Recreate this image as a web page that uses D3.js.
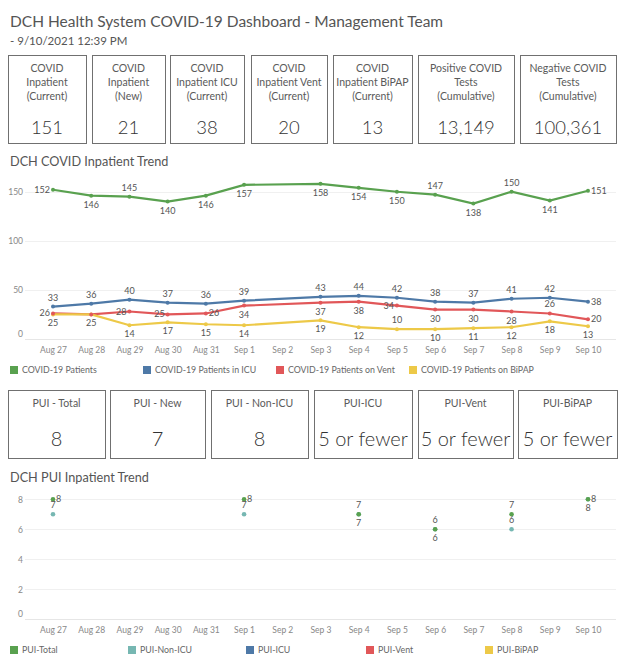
<!DOCTYPE html>
<meta charset=utf-8>
<style>
body { margin: 0; background: white }
svg { display: block; font-family: Lato, "Open Sans", sans-serif }
</style>
<script src="https://cdn.jsdelivr.net/npm/d3@7/dist/d3.min.js"></script>
<body>
<svg id=dash width=624 height=662></svg>
<script>
// ---- data ----
const days = ["Aug 27","Aug 28","Aug 29","Aug 30","Aug 31","Sep 1","Sep 2","Sep 3","Sep 4","Sep 5","Sep 6","Sep 7","Sep 8","Sep 9","Sep 10"];

const kpiLabels = [
	["COVID","Inpatient","(Current)"],
	["COVID","Inpatient","(New)"],
	["COVID","Inpatient ICU","(Current)"],
	["COVID","Inpatient Vent","(Current)"],
	["COVID","Inpatient BiPAP","(Current)"],
	["Positive COVID","Tests","(Cumulative)"],
	["Negative COVID","Tests","(Cumulative)"]];
const kpiValues = ["151","21","38","20","13","13,149","100,361"];

const puiLabels = ["PUI - Total","PUI - New","PUI - Non-ICU","PUI-ICU","PUI-Vent","PUI-BiPAP"];
const puiValues = ["8","7","8","5 or fewer","5 or fewer","5 or fewer"];

const covidNames = ["COVID-19 Patients","COVID-19 Patients in ICU","COVID-19 Patients on Vent","COVID-19 Patients on BiPAP"];
const patients = [152,146,145,140,146,157,null,158,154,150,147,138,150,141,151];
const icu      = [33,36,40,37,36,39,null,43,44,42,38,37,41,42,38];
const vent     = [26,25,28,25,26,34,null,37,38,34,30,30,28,26,20];
const bipap    = [25,25,14,17,15,14,null,19,12,10,10,11,12,18,13];
const covidTicks = [0,50,100,150];

const puiNames = ["PUI-Total","PUI-Non-ICU","PUI-ICU","PUI-Vent","PUI-BiPAP"];
const puiTotal  = [8,null,null,null,null,8,null,null,7,null,6,null,7,null,8];
const puiNonIcu = [7,null,null,null,null,7,null,null,7,null,6,null,6,null,8];
const puiTicks = [0,2,4,6,8];

// label placement per point: l left, r right, a above, b below, - none
const covidLabelPos = [
	"l b a b b b - b b b a b a b r",
	"a a a a a a - a a a a a a a r",
	"l - l l r b - b b l b b b a r",
	"b b b b b b - b b a b b b b b"];
const puiLabelPos = [
	"r - - - - r - - a - a - a - r",
	"a - - - - a - - b - b - a - b"];

// ---- layout / style ----
const colors = ["#59a14f","#4e79a7","#e15759","#edc948"];
const puiColors = ["#59a14f","#76b7b2","#4e79a7","#e15759","#edc948"];
const kpiBoxes = [[8,86],[92,165],[170,244],[251,327],[333,412],[418,514],[520,616]];
const puiBoxes = [[8,105],[110,205],[211,308],[314,412],[418,513],[518,617]];
const textCol = "#555", axisCol = "#888";

const svg = d3.select("#dash");

svg.append("text").attr("x", 10).attr("y", 27)
	.attr("font-size", 15.5).attr("fill", textCol)
	.text("DCH Health System COVID-19 Dashboard - Management Team");
svg.append("text").attr("x", 10).attr("y", 45)
	.attr("font-size", 11.5).attr("fill", textCol)
	.text("- 9/10/2021 12:39 PM");

function boxes(spec, labels, values, y0, y1, labelY, valueY, valueSize) {
	const g = svg.append("g");
	spec.forEach(([x0, x1], i) => {
		const cx = (x0 + x1) / 2;
		g.append("rect").attr("x", x0 + 0.5).attr("y", y0 + 0.5)
			.attr("width", x1 - x0).attr("height", y1 - y0)
			.attr("fill", "white").attr("stroke", "#707070");
		const lines = [].concat(labels[i]);
		lines.forEach((l, j) => g.append("text")
			.attr("x", cx).attr("y", labelY + j * 14)
			.attr("text-anchor", "middle").attr("font-size", 10.5).attr("fill", "#5a5a5a")
			.text(l));
		g.append("text").attr("x", cx).attr("y", valueY)
			.attr("text-anchor", "middle").attr("font-size", valueSize).attr("font-weight", 300)
			.attr("fill", "#333")
			.text(values[i]);
	});
}
boxes(kpiBoxes, kpiLabels, kpiValues, 55, 143, 72, 134, 18.5);
boxes(puiBoxes, puiLabels, puiValues, 390, 458, 407, 445.5, 20);

const x = d3.scalePoint().domain(days).range([53, 588]);

function trend(opts) {
	const {title, titleY, top, bottom, max, ticks, series, names, cols, lineCols, pos, lines, legendX, legendY} = opts;
	const y = d3.scaleLinear().domain([0, max]).range([bottom, top]);
	svg.append("text").attr("x", 10).attr("y", titleY)
		.attr("font-size", 12.7).attr("fill", textCol).text(title);

	// grid
	svg.append("g").selectAll("line").data(ticks.slice(1)).join("line")
		.attr("x1", 25).attr("x2", 616)
		.attr("y1", d => Math.round(y(d)) + 0.5).attr("y2", d => Math.round(y(d)) + 0.5)
		.attr("stroke", "#f0f0f0");
	svg.append("line").attr("x1", 25).attr("x2", 616)
		.attr("y1", Math.round(bottom) + 0.5).attr("y2", Math.round(bottom) + 0.5)
		.attr("stroke", "#e6e6e6");

	// y axis
	svg.append("g").attr("transform", "translate(23,0)")
		.call(d3.axisLeft(y).tickValues(ticks).tickSize(0).tickPadding(0))
		.call(g => g.select(".domain").remove())
		.call(g => g.selectAll("text").attr("fill", axisCol).attr("font-size", 8.5)
			.attr("font-family", "Lato, sans-serif")
			.attr("dy", d => d === 0 ? "-0.3em" : "0.32em"));

	// x axis
	svg.append("g").attr("transform", `translate(0,${bottom + 2})`)
		.call(d3.axisBottom(x).tickSize(0).tickPadding(6))
		.call(g => g.select(".domain").remove())
		.call(g => g.selectAll("text").attr("fill", axisCol).attr("font-size", 8.5)
			.attr("font-family", "Lato, sans-serif"));

	series.forEach((vals, s) => {
		const pts = vals.map((v, i) => [days[i], v]).filter(d => d[1] != null);
		if (lines) {
			svg.append("path").datum(pts)
				.attr("fill", "none").attr("stroke", cols[s]).attr("stroke-width", 2.2)
				.attr("d", d3.line().x(d => x(d[0])).y(d => y(d[1])));
		}
	});
	// points drawn last series first so the first series sits on top
	series.slice().reverse().forEach((vals, rs) => {
		const s = series.length - 1 - rs;
		const pts = vals.map((v, i) => [days[i], v]).filter(d => d[1] != null);
		svg.append("g").selectAll("circle").data(pts).join("circle")
			.attr("cx", d => x(d[0])).attr("cy", d => y(d[1]))
			.attr("r", lines ? 2 : 2.3).attr("fill", cols[s]);
	});
	series.forEach((vals, s) => {
		const p = pos[s].split(" ");
		const lab = vals.map((v, i) => ({day: days[i], v, p: p[i]})).filter(d => d.v != null && d.p !== "-");
		svg.append("g").selectAll("text").data(lab).join("text")
			.attr("x", d => x(d.day) + (d.p === "l" ? -3 : d.p === "r" ? 3 : 0))
			.attr("y", d => y(d.v) + (d.p === "a" ? -6 : d.p === "b" ? 12 : 3))
			.attr("text-anchor", d => d.p === "l" ? "end" : d.p === "r" ? "start" : "middle")
			.attr("font-size", 9).attr("fill", textCol)
			.text(d => d.v);
	});

	// legend
	const lg = svg.append("g").selectAll("g").data(names).join("g")
		.attr("transform", (d, i) => `translate(${legendX[i]},${legendY})`);
	lg.append("rect").attr("x", 0).attr("y", -4).attr("width", 8).attr("height", 8)
		.attr("fill", (d, i) => lineCols[i]);
	lg.append("text").attr("x", 12).attr("y", 3)
		.attr("font-size", 8.8).attr("fill", "#666").text(d => d);
}

trend({
	title: "DCH COVID Inpatient Trend", titleY: 166,
	top: 177, bottom: 339, max: 165, ticks: covidTicks,
	series: [patients, icu, vent, bipap], names: covidNames,
	cols: colors, lineCols: colors, pos: covidLabelPos, lines: true,
	legendX: [10, 143, 276, 409], legendY: 370
});

trend({
	title: "DCH PUI Inpatient Trend", titleY: 482,
	top: 490, bottom: 619.3, max: 8.62, ticks: puiTicks,
	series: [puiTotal, puiNonIcu], names: puiNames,
	cols: puiColors, lineCols: puiColors, pos: puiLabelPos, lines: false,
	legendX: [10, 128, 246, 366, 485], legendY: 650
});
</script>
</body>
